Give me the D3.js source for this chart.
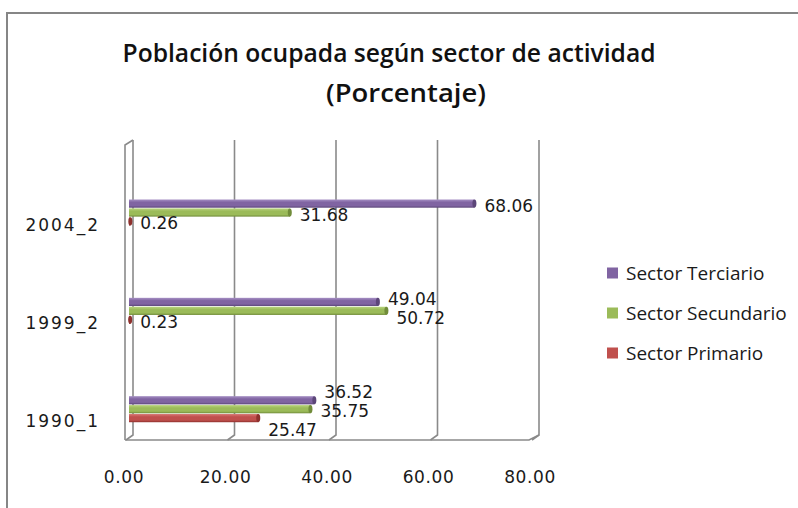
<!DOCTYPE html>
<html>
<head>
<meta charset="utf-8">
<script src="https://cdn.jsdelivr.net/npm/d3@7/dist/d3.min.js"></script>
<style>
  body { margin: 0; background: #fff; }
  svg { display: block; }
</style>
</head>
<body>
<div id="chart"></div>
<script>
// chart data
const categories = ["2004_2", "1999_2", "1990_1"];
const seriesNames = ["Sector Terciario", "Sector Secundario", "Sector Primario"];
const terciario = [68.06, 49.04, 36.52];
const secundario = [31.68, 50.72, 35.75];
const primario = [0.26, 0.23, 25.47];
const xTicks = [0, 20, 40, 60, 80];
const titleLines = ["Población ocupada según sector de actividad", "(Porcentaje)"];

const seriesValues = [terciario, secundario, primario];
const colors = ["#8064A2", "#9BBB59", "#C0504D"];
const light = ["#a690c4", "#b9d47e", "#d97a77"];
const dark = ["#5c4679", "#718c3a", "#8e302d"];

const width = 798, height = 508;
const plotTop = 140, plotBottom = 435;
const depthY = 5;

const svg = d3.select("#chart").append("svg")
    .attr("width", width)
    .attr("height", height);

// outer frame
svg.append("rect")
    .attr("x", 7).attr("y", 13)
    .attr("width", 830).attr("height", 530)
    .attr("fill", "#fff")
    .attr("stroke", "#868686")
    .attr("stroke-width", 2);

// title
svg.selectAll("text.title")
    .data(titleLines)
    .enter()
    .append("text")
    .attr("class", "title")
    .attr("x", (d, i) => i == 0 ? 389 : 406)
    .attr("y", (d, i) => i == 0 ? 62 : 102)
    .attr("text-anchor", "middle")
    .attr("font-family", "'Open Sans', sans-serif")
    .attr("font-weight", 600)
    .attr("font-size", 25)
    .attr("textLength", (d, i) => i == 0 ? 533 : 160)
    .attr("lengthAdjust", "spacingAndGlyphs")
    .attr("fill", "#111")
    .text(d => d);

const x = d3.scaleLinear().domain([0, 80]).range([129, 535]);
const y = d3.scaleBand().domain(categories).range([plotTop, plotBottom]);
const bw = y.bandwidth();
const ySub = d3.scaleBand().domain(d3.range(3))
    .range([bw * 0.605, bw * 0.87]).paddingInner(0.08);

const backX = v => x(v) + 4;
const frontX = v => x(v) - 3;

// back wall gridlines with floor slant
const grid = svg.append("g");
grid.selectAll("path")
    .data(xTicks)
    .enter()
    .append("path")
    .attr("d", d => `M${backX(d)},${plotTop} L${backX(d)},${plotBottom} L${frontX(d)},${plotBottom + depthY}`)
    .attr("fill", "none")
    .attr("stroke", "#8a8a8a")
    .attr("stroke-width", 1.6);

// floor front edge and side wall
const wallX = frontX(0) - 1;
grid.append("path")
    .attr("d", `M${wallX},${plotBottom + depthY} L${frontX(80) - 3},${plotBottom + depthY} L${backX(80)},${plotBottom}`)
    .attr("fill", "none")
    .attr("stroke", "#8a8a8a")
    .attr("stroke-width", 1.6);
grid.append("path")
    .attr("d", `M${wallX},${plotBottom + depthY} L${wallX},${plotTop + depthY} L${backX(0)},${plotTop}`)
    .attr("fill", "none")
    .attr("stroke", "#8a8a8a")
    .attr("stroke-width", 1.6);

// gradients for bars
const defs = svg.append("defs");
colors.forEach((c, i) => {
    const g = defs.append("linearGradient")
        .attr("id", "grad" + i)
        .attr("x1", 0).attr("y1", 0).attr("x2", 0).attr("y2", 1);
    g.append("stop").attr("offset", "0%").attr("stop-color", light[i]);
    g.append("stop").attr("offset", "35%").attr("stop-color", c);
    g.append("stop").attr("offset", "75%").attr("stop-color", c);
    g.append("stop").attr("offset", "100%").attr("stop-color", dark[i]);
});

// flatten to bar records
const bars = [];
categories.forEach((c, ci) => {
    seriesValues.forEach((vals, si) => {
        bars.push({ cat: c, s: si, value: vals[ci] });
    });
});

const barG = svg.append("g");
barG.selectAll("rect")
    .data(bars)
    .enter()
    .append("rect")
    .attr("x", x(0))
    .attr("y", d => y(d.cat) + ySub(d.s))
    .attr("width", d => x(d.value) - x(0))
    .attr("height", ySub.bandwidth())
    .attr("fill", d => `url(#grad${d.s})`);

// rounded end caps
barG.selectAll("ellipse")
    .data(bars)
    .enter()
    .append("ellipse")
    .attr("cx", d => x(d.value))
    .attr("cy", d => y(d.cat) + ySub(d.s) + ySub.bandwidth() / 2)
    .attr("rx", 2)
    .attr("ry", ySub.bandwidth() / 2)
    .attr("fill", d => dark[d.s]);

// data labels
const labels = svg.append("g").selectAll("text")
    .data(bars)
    .enter()
    .append("text")
    .attr("font-family", "'DejaVu Sans', sans-serif")
    .attr("font-size", 17)
    .attr("fill", "#1a1a1a")
    .attr("x", d => x(d.value) + 10)
    .text(d => d.value.toFixed(2));

labels.each(function (d) {
    d.x0 = x(d.value) + 10;
    d.w = this.getComputedTextLength();
    d.cy = y(d.cat) + ySub(d.s) + ySub.bandwidth() / 2 + 2;
});

// push overlapping labels apart inside each group
const minGap = 19;
categories.forEach(c => {
    const grp = bars.filter(b => b.cat == c);
    for (let k = 0; k < 60; k++) {
        for (let i = 0; i < grp.length - 1; i++) {
            const a = grp[i], b = grp[i + 1];
            const overlapX = a.x0 < b.x0 + b.w + 8 && b.x0 < a.x0 + a.w + 8;
            const gap = b.cy - a.cy;
            if (overlapX && gap < minGap) {
                const push = (minGap - gap) / 2;
                a.cy -= push;
                b.cy += push;
            }
        }
    }
});

labels.attr("y", d => d.cy + 6);

// category labels
svg.append("g").selectAll("text")
    .data(categories)
    .enter()
    .append("text")
    .attr("x", 100)
    .attr("y", d => y(d) + bw * 0.86 + 6)
    .attr("text-anchor", "end")
    .attr("font-family", "'DejaVu Sans', sans-serif")
    .attr("font-size", 17)
    .attr("letter-spacing", 2)
    .attr("fill", "#1a1a1a")
    .text(d => d);

// x tick labels
svg.append("g").selectAll("text")
    .data(xTicks)
    .enter()
    .append("text")
    .attr("x", d => x(d) - 5)
    .attr("y", 483)
    .attr("text-anchor", "middle")
    .attr("font-family", "'DejaVu Sans', sans-serif")
    .attr("font-size", 17)
    .attr("letter-spacing", 0.6)
    .attr("fill", "#1a1a1a")
    .text(d => d3.format(".2f")(d));

// legend
const legend = svg.append("g").selectAll("g")
    .data(seriesNames)
    .enter()
    .append("g")
    .attr("transform", (d, i) => `translate(607,${273 + i * 40})`);

legend.append("rect")
    .attr("x", 0).attr("y", -5.5)
    .attr("width", 11).attr("height", 11)
    .attr("fill", (d, i) => colors[i]);

legend.append("text")
    .attr("x", 19)
    .attr("y", 7)
    .attr("font-family", "'Open Sans', sans-serif")
    .attr("font-size", 19)
    .attr("fill", "#1a1a1a")
    .text(d => d);
</script>
</body>
</html>
